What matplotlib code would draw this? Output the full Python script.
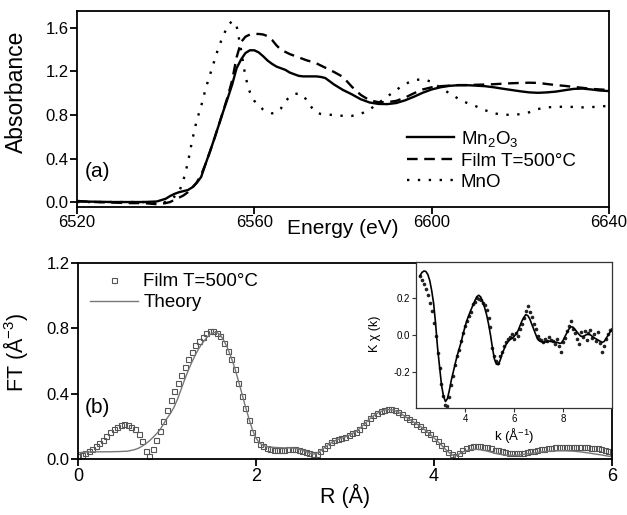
import numpy as np
import matplotlib
matplotlib.use("Agg")
import matplotlib.pyplot as plt
from matplotlib.lines import Line2D

plt.rcParams["font.family"] = ["Liberation Sans", "DejaVu Sans"]
plt.rcParams["mathtext.default"] = "regular"

# -----------------------------
# (a) XANES spectra
# -----------------------------
energy = [6520, 6524, 6528, 6532, 6535, 6538, 6540,
          6541, 6542, 6543, 6544, 6545, 6546, 6547, 6548, 6549, 6550,
          6551, 6552, 6553, 6554, 6555, 6556, 6557, 6558, 6559, 6560,
          6561, 6562, 6563, 6564, 6565, 6566, 6567, 6568, 6569, 6570,
          6571, 6572, 6573, 6574, 6575,
          6576, 6578, 6580, 6582, 6584, 6586, 6588, 6590, 6592, 6594,
          6596, 6598, 6600, 6602, 6604, 6606, 6608, 6610, 6612, 6614,
          6616, 6618, 6620, 6622, 6624, 6626, 6628, 6630, 6632, 6634,
          6636, 6638, 6640]

mn2o3 = [0.005, 0.003, 0.0, 0.0, 0.0, 0.005, 0.03,
         0.055, 0.075, 0.09, 0.10, 0.11, 0.135, 0.175, 0.23, 0.35, 0.465,
         0.585, 0.71, 0.835, 0.955, 1.08, 1.23, 1.31, 1.37, 1.395, 1.395,
         1.375, 1.34, 1.30, 1.27, 1.245, 1.23, 1.215, 1.19, 1.175, 1.16,
         1.155, 1.155, 1.155, 1.155, 1.15,
         1.14, 1.08, 1.03, 0.99, 0.945, 0.915, 0.902, 0.90, 0.91, 0.935,
         0.968, 1.005, 1.035, 1.055, 1.068, 1.074, 1.074, 1.07, 1.065, 1.055,
         1.042, 1.03, 1.018, 1.008, 1.004, 1.008, 1.015, 1.028, 1.04, 1.043,
         1.035, 1.025, 1.02]

film_xanes = [0.01, 0.0, -0.005, -0.01, -0.01, -0.02, -0.01,
              0.0, 0.02, 0.04, 0.06, 0.09, 0.13, 0.18, 0.25, 0.35, 0.465,
              0.585, 0.71, 0.84, 0.97, 1.12, 1.33, 1.47, 1.52, 1.54, 1.545,
              1.545, 1.54, 1.525, 1.49, 1.44, 1.40, 1.38, 1.36, 1.345, 1.33,
              1.315, 1.30, 1.29, 1.275, 1.255,
              1.235, 1.195, 1.15, 1.06, 0.985, 0.935, 0.918, 0.918, 0.93, 0.96,
              1.0, 1.035, 1.055, 1.065, 1.07, 1.075, 1.075, 1.078, 1.08, 1.083,
              1.088, 1.092, 1.095, 1.097, 1.095, 1.085, 1.075, 1.068, 1.058, 1.05,
              1.04, 1.035, 1.03]

mno = [0.0, 0.0, 0.0, 0.0, 0.0, -0.01, 0.0,
       0.02, 0.05, 0.09, 0.20, 0.36, 0.57, 0.75, 0.88, 1.04, 1.17,
       1.30, 1.43, 1.53, 1.62, 1.665, 1.62, 1.40, 1.15, 1.01, 0.93,
       0.885, 0.85, 0.83, 0.815, 0.825, 0.86, 0.925, 0.97, 0.99, 1.0,
       0.975, 0.93, 0.865, 0.82, 0.81,
       0.805, 0.80, 0.792, 0.792, 0.81, 0.85, 0.91, 0.97, 1.03, 1.085,
       1.12, 1.13, 1.105, 1.05, 1.0, 0.95, 0.91, 0.88, 0.845, 0.815,
       0.805, 0.80, 0.808, 0.825, 0.855, 0.87, 0.875, 0.876, 0.874, 0.87,
       0.872, 0.88, 0.882]

# -----------------------------
# (b) Fourier transform, R grid of 0.04 A
# -----------------------------
r_grid = np.linspace(0, 6, 151)

ft_film = [0.020, 0.028, 0.038, 0.050, 0.064, 0.080, 0.100, 0.120, 0.145, 0.165,
           0.185, 0.200, 0.212, 0.216, 0.212, 0.200, 0.183, 0.155, 0.110, 0.050,
           0.022, 0.065, 0.120, 0.175, 0.235, 0.300, 0.360, 0.415, 0.465, 0.515,
           0.565, 0.612, 0.658, 0.696, 0.725, 0.750, 0.770, 0.784, 0.787, 0.775,
           0.752, 0.710, 0.665, 0.615, 0.550, 0.465, 0.390, 0.315, 0.240, 0.170,
           0.125, 0.095, 0.080, 0.070, 0.064, 0.060, 0.057, 0.058, 0.060, 0.061,
           0.062, 0.061, 0.058, 0.052, 0.045, 0.036, 0.030, 0.034, 0.050, 0.068,
           0.088, 0.105, 0.116, 0.124, 0.131, 0.139, 0.148, 0.158, 0.170, 0.185,
           0.208, 0.230, 0.250, 0.268, 0.283, 0.295, 0.302, 0.307, 0.306, 0.300,
           0.290, 0.276, 0.260, 0.246, 0.232, 0.218, 0.204, 0.188, 0.170, 0.152,
           0.132, 0.112, 0.090, 0.068, 0.046, 0.030, 0.020, 0.038, 0.055, 0.068,
           0.076, 0.080, 0.081, 0.080, 0.078, 0.074, 0.067, 0.060, 0.054, 0.048,
           0.044, 0.041, 0.038, 0.037, 0.038, 0.041, 0.045, 0.048, 0.052, 0.057,
           0.061, 0.064, 0.068, 0.071, 0.074, 0.076, 0.077, 0.078, 0.078, 0.078,
           0.077, 0.076, 0.075, 0.074, 0.072, 0.070, 0.067, 0.063, 0.059, 0.052,
           0.045]

ft_theory = [0.040, 0.042, 0.044, 0.045, 0.046, 0.046, 0.046, 0.046, 0.046, 0.046,
             0.047, 0.047, 0.048, 0.049, 0.050, 0.055, 0.060, 0.068, 0.080, 0.095,
             0.112, 0.133, 0.155, 0.180, 0.215, 0.250, 0.282, 0.320, 0.370, 0.430,
             0.490, 0.545, 0.595, 0.640, 0.680, 0.712, 0.740, 0.762, 0.775, 0.776,
             0.760, 0.725, 0.680, 0.625, 0.560, 0.485, 0.405, 0.325, 0.250, 0.180,
             0.130, 0.100, 0.085, 0.078, 0.075, 0.073, 0.072, 0.071, 0.070, 0.070,
             0.069, 0.067, 0.063, 0.056, 0.047, 0.038, 0.032, 0.036, 0.050, 0.067,
             0.085, 0.100, 0.112, 0.121, 0.129, 0.137, 0.146, 0.157, 0.170, 0.186,
             0.206, 0.227, 0.248, 0.266, 0.281, 0.293, 0.300, 0.304, 0.303, 0.298,
             0.288, 0.275, 0.260, 0.246, 0.232, 0.218, 0.204, 0.188, 0.170, 0.151,
             0.131, 0.110, 0.088, 0.066, 0.045, 0.028, 0.020, 0.032, 0.045, 0.053,
             0.058, 0.061, 0.061, 0.059, 0.055, 0.050, 0.044, 0.038, 0.033, 0.029,
             0.026, 0.024, 0.024, 0.025, 0.027, 0.030, 0.033, 0.036, 0.039, 0.042,
             0.045, 0.047, 0.049, 0.050, 0.051, 0.052, 0.052, 0.052, 0.051, 0.050,
             0.048, 0.046, 0.043, 0.040, 0.037, 0.033, 0.030, 0.027, 0.023, 0.019,
             0.016]

# -----------------------------
# inset: k*chi(k), k grid of 0.08 A^-1
# -----------------------------
k_grid = np.linspace(2.16, 10.0, 99)

kchi_film = [0.320, 0.300, 0.275, 0.250, 0.215, 0.175, 0.130, 0.065, -0.005, -0.095,
             -0.180, -0.265, -0.330, -0.380, -0.385, -0.335, -0.270, -0.220, -0.160, -0.115,
             -0.080, -0.030, 0.010, 0.050, 0.075, 0.105, 0.125, 0.165, 0.180, 0.198,
             0.195, 0.188, 0.172, 0.160, 0.135, 0.090, 0.045, -0.070, -0.115, -0.140,
             -0.150, -0.115, -0.090, -0.060, -0.040, -0.020, -0.010, 0.005, -0.020, 0.010,
             -0.005, 0.030, 0.060, 0.090, 0.130, 0.155, 0.125, 0.100, 0.060, 0.030,
             -0.005, -0.020, -0.025, -0.040, -0.020, -0.030, -0.010, -0.025, -0.030, -0.050,
             -0.020, -0.060, -0.090, -0.040, -0.015, 0.020, 0.050, 0.075, 0.030, 0.010,
             -0.020, -0.050, 0.015, -0.010, 0.020, -0.025, 0.010, 0.025, -0.015, 0.005,
             -0.030, 0.015, -0.045, -0.090, -0.060, -0.020, 0.005, 0.025, 0.030]

kchi_theory = [0.320, 0.338, 0.346, 0.344, 0.328, 0.295, 0.240, 0.170, 0.060, -0.070,
               -0.170, -0.270, -0.330, -0.360, -0.345, -0.300, -0.245, -0.200, -0.155, -0.112,
               -0.075, -0.040, 0.005, 0.045, 0.080, 0.108, 0.135, 0.160, 0.185, 0.207,
               0.215, 0.206, 0.180, 0.148, 0.110, 0.060, 0.000, -0.070, -0.130, -0.158,
               -0.160, -0.135, -0.100, -0.075, -0.050, -0.035, -0.025, -0.018, -0.008, 0.005,
               0.022, 0.048, 0.075, 0.095, 0.110, 0.105, 0.088, 0.060, 0.033, 0.005,
               -0.022, -0.032, -0.037, -0.040, -0.038, -0.035, -0.034, -0.035, -0.036, -0.038,
               -0.040, -0.044, -0.045, -0.030, -0.008, 0.012, 0.032, 0.044, 0.043, 0.032,
               0.018, 0.005, -0.006, -0.008, -0.004, 0.002, 0.004, 0.000, -0.008, -0.016,
               -0.022, -0.028, -0.034, -0.040, -0.035, -0.018, -0.002, 0.015, 0.027]

# -----------------------------
# Figure
# -----------------------------
fig = plt.figure(figsize=(6.27, 5.15), dpi=100)

def style_axes(ax, lw=1.3, size=12):
    for s in ax.spines.values():
        s.set_linewidth(lw)
    ax.tick_params(direction="out", length=5, width=lw, labelsize=size, pad=1)

# ---- panel (a)
ax1 = fig.add_axes([0.1228, 0.598, 0.8485, 0.3806])
style_axes(ax1)
ax1.plot(energy, mn2o3, color="black", lw=1.7, label="Mn$_2$O$_3$")
ax1.plot(energy, film_xanes, color="black", lw=1.7, dashes=(4.5, 2.8),
         label="Film T=500°C")
ax1.plot(energy, mno, color="black", lw=1.7, linestyle=(0, (1, 3.6)),
         label="MnO")
ax1.set_xlim(6520, 6640)
ax1.set_ylim(-0.046, 1.756)
ax1.set_xticks([6520, 6560, 6600, 6640])
ax1.set_yticks([0.0, 0.4, 0.8, 1.2, 1.6])
ax1.set_yticklabels(["0.0", "0.4", "0.8", "1.2", "1.6"])
ax1.set_ylabel("Absorbance", fontsize=16.5)
ax1.yaxis.set_label_coords(-0.092, 0.59)
ax1.set_xlabel("Energy (eV)", fontsize=15)
ax1.xaxis.set_label_coords(0.5, -0.06)
ax1.text(0.038, 0.18, "(a)", transform=ax1.transAxes, fontsize=15,
         ha="center", va="center")
ax1.legend(loc="lower right", bbox_to_anchor=(0.955, 0.035), frameon=False,
           fontsize=13.5, handlelength=2.5, handletextpad=0.35,
           labelspacing=0.2, borderpad=0)

# ---- panel (b)
ax2 = fig.add_axes([0.1244, 0.1081, 0.8517, 0.3812])
style_axes(ax2)
ax2.plot(r_grid, ft_film, linestyle="none", marker="s", markersize=3.6,
         markerfacecolor="none", markeredgecolor="#555555", markeredgewidth=0.8)
ax2.plot(r_grid, ft_theory, color="#777777", lw=1.0)
ax2.set_xlim(0, 6)
ax2.set_ylim(0, 1.2)
ax2.set_xticks([0, 2, 4, 6])
ax2.set_yticks([0.0, 0.4, 0.8, 1.2])
ax2.set_yticklabels(["0.0", "0.4", "0.8", "1.2"])
ax2.tick_params(axis="x", labelsize=13)
ax2.set_ylabel("FT (Å$^{-3}$)", fontsize=15.5)
ax2.yaxis.set_label_coords(-0.09, 0.547)
ax2.set_xlabel("R (Å)", fontsize=15.5)
ax2.xaxis.set_label_coords(0.5, -0.125)
ax2.text(0.0365, 0.264, "(b)", transform=ax2.transAxes, fontsize=15,
         ha="center", va="center")
handles = [
    Line2D([0], [0], linestyle="none", marker="s", markersize=3.6,
           markerfacecolor="none", markeredgecolor="#555555", markeredgewidth=0.8),
    Line2D([0], [0], color="#777777", lw=1.0),
]
ax2.legend(handles, ["Film T=500°C", "Theory"], loc="upper left",
           bbox_to_anchor=(0.005, 0.995), frameon=False, fontsize=13.5,
           handlelength=2.55, handletextpad=0.3, labelspacing=0.2,
           borderpad=0)

# ---- inset
ax3 = fig.add_axes([0.6635, 0.2078, 0.3126, 0.2835])
for s in ax3.spines.values():
    s.set_linewidth(0.9)
    s.set_color("#333333")
ax3.tick_params(direction="out", length=3, width=0.8, labelsize=7, pad=1,
                color="#333333")
ax3.plot(k_grid, kchi_film, linestyle="none", marker="o", markersize=1.6,
         color="#222222")
ax3.plot(k_grid, kchi_theory, color="black", lw=1.2)
ax3.set_xlim(2, 10)
ax3.set_ylim(-0.395, 0.395)
ax3.set_xticks([4, 6, 8])
ax3.set_yticks([-0.2, 0.0, 0.2])
ax3.set_yticklabels(["-0.2", "0.0", "0.2"])
ax3.set_ylabel("K χ (k)", fontsize=9)
ax3.yaxis.set_label_coords(-0.18, 0.51)
ax3.set_xlabel("k (Å$^{-1}$)", fontsize=9.5)
ax3.xaxis.set_label_coords(0.5, -0.125)

fig.savefig("out.png", dpi=100)
